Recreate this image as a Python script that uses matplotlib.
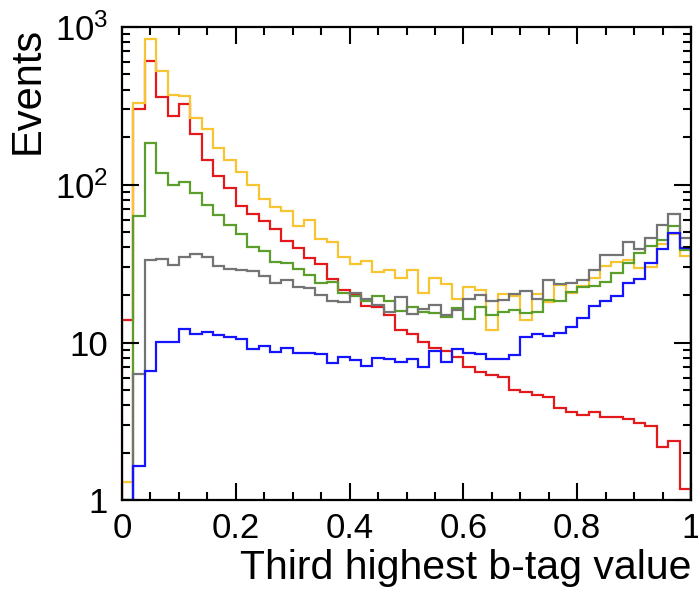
import numpy as np
import matplotlib
matplotlib.use('Agg')
import matplotlib.pyplot as plt
from matplotlib.ticker import FixedLocator, LogLocator, NullFormatter, FuncFormatter

plt.rcParams['font.family'] = ['Liberation Sans', 'DejaVu Sans']
plt.rcParams['mathtext.fontset'] = 'custom'
plt.rcParams['mathtext.rm'] = 'Liberation Sans'

# 50 bins from 0 to 1
edges = np.linspace(0, 1, 51)

red = [13.9, 299, 605, 358, 270, 323, 209, 144, 114, 95.5,
       73.5, 65.1, 58.5, 52.5, 44.1, 39.4, 34.1, 31.4, 25.2, 21.5,
       20.0, 17.1, 16.9, 14.9, 12.0, 11.3, 10.1, 9.18, 8.87, 8.13,
       7.03, 6.47, 6.22, 6.02, 5.01, 4.89, 4.66, 4.50, 3.83, 3.65,
       3.48, 3.61, 3.36, 3.39, 3.28, 3.08, 2.97, 2.19, 2.38, 1.18]
yellow = [1.31, 330, 834, 523, 369, 362, 264, 224, 171, 143,
          120, 100, 81.5, 72, 68.2, 54.6, 59.6, 45.0, 43.5, 34.6,
          31.4, 33.0, 28.1, 29.0, 25.8, 29.0, 20.5, 25.5, 23.5, 18.8,
          22.4, 21.5, 12.0, 20.3, 19.7, 13.9, 20.3, 18.1, 23.1, 20.5,
          22.8, 25.8, 30.5, 32.5, 33.3, 29.5, 29.9, 42.0, 48.6, 35.3]
green = [0, 63, 184, 119, 99, 104, 88.7, 74, 64, 55.4,
         48.5, 40.4, 38.1, 32.5, 31.7, 29.1, 26.8, 23.7, 24.3, 20.7,
         19.6, 18.4, 19.7, 18.4, 15.9, 16.9, 15.5, 15.3, 14.6, 16.5,
         14.0, 16.7, 14.9, 15.5, 16.1, 15.3, 15.5, 18.6, 18.4, 21.0,
         22.4, 22.9, 24.3, 27.4, 32.0, 37.0, 40.8, 44.5, 54.6, 38.5]
gray = [0, 6.3, 33.5, 33.6, 30.8, 35.0, 36.3, 34.6, 30.4, 29.3,
        28.8, 28.5, 26.4, 23.9, 24.9, 22.4, 22.0, 20.0, 18.4, 18.1,
        20.5, 18.9, 17.4, 15.6, 19.5, 15.1, 16.4, 17.3, 15.0, 16.0,
        19.0, 20.0, 18.4, 18.6, 20.3, 21.2, 19.0, 24.9, 23.5, 23.9,
        24.9, 28.8, 35.8, 35.8, 43.1, 38.9, 45.6, 55.4, 65.1, 45.6]
blue = [1.0, 1.65, 6.6, 10.1, 10.1, 12.2, 11.4, 11.6, 11.1, 10.8,
        10.5, 9.06, 9.5, 8.7, 9.3, 8.62, 8.62, 8.46, 7.45, 8.13,
        7.75, 7.10, 7.94, 7.82, 7.53, 7.90, 7.03, 8.83, 7.53, 9.06,
        8.62, 8.46, 7.82, 7.90, 8.34, 10.8, 11.3, 11.0, 11.5, 12.5,
        14.4, 17.0, 18.4, 19.7, 23.9, 25.3, 32.0, 38.9, 49.5, 39.4]

fig = plt.figure(figsize=(6.98, 5.90), dpi=100)
ax = fig.add_axes([0.1748, 0.1517, 0.8152, 0.8031])

for vals, col in [(red, '#e31a1c'), (yellow, '#f7c531'), (green, '#5b9e2c'),
                  (gray, '#747474'), (blue, '#1414ff')]:
    ax.stairs(vals, edges, baseline=0, color=col, lw=1.6)

ax.set_yscale('log')
ax.set_xlim(0, 1)
ax.set_ylim(1, 1000)

ax.xaxis.set_major_locator(FixedLocator([0, 0.2, 0.4, 0.6, 0.8, 1.0]))
ax.xaxis.set_minor_locator(FixedLocator(np.arange(0, 1.001, 0.05)))
ax.xaxis.set_major_formatter(FuncFormatter(lambda v, p: '%g' % v))
ax.yaxis.set_major_locator(FixedLocator([1, 10, 100, 1000]))
ax.yaxis.set_minor_locator(LogLocator(base=10, subs=np.arange(2, 10)))
ax.yaxis.set_minor_formatter(NullFormatter())
ylabels = {1: '1', 10: '10', 100: r'$\mathregular{10^{2}}$', 1000: r'$\mathregular{10^{3}}$'}
ax.yaxis.set_major_formatter(FuncFormatter(lambda v, p: ylabels.get(int(round(v)), '')))

ax.tick_params(which='both', direction='in', top=True, right=True, width=1.5, labelsize=25)
ax.tick_params(which='major', length=12)
ax.tick_params(which='minor', length=6)
ax.tick_params(axis='x', which='major', pad=8)
ax.tick_params(axis='y', which='major', pad=10)
for s in ax.spines.values():
    s.set_linewidth(1.6)

ax.set_xlabel('Third highest b-tag value', fontsize=29.5, loc='right', labelpad=3)
ax.set_ylabel('Events', fontsize=30, loc='top', labelpad=5)

plt.savefig('out.png', dpi=100)
